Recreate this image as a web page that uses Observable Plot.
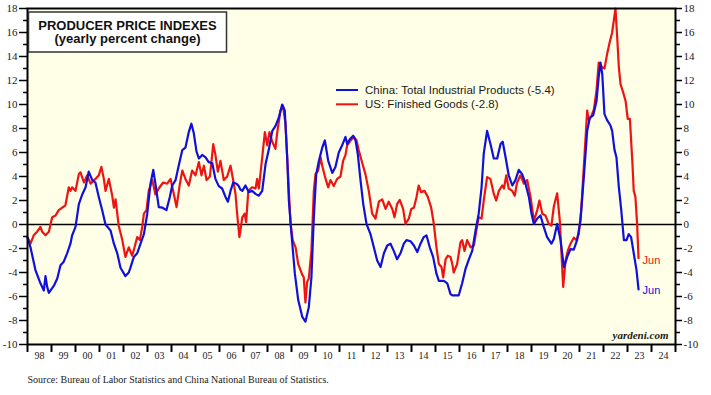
<!DOCTYPE html>
<html><head><meta charset="utf-8">
<script src="https://cdn.jsdelivr.net/npm/d3@7"></script>
<script src="https://cdn.jsdelivr.net/npm/@observablehq/plot@0.6"></script>
<style>
html,body{margin:0;padding:0;background:#fff;}
#chart svg{display:block;}
</style></head><body><div id="chart"></div>
<script>
// China: Total Industrial Products, yearly % change [decimal year, value]
const china = [[1998.00,-1.1],[1998.125,-1.9],[1998.33,-3.8],[1998.54,-4.9],[1998.68,-5.5],[1998.75,-4.3],[1998.82,-5.2],[1998.89,-5.7],[1999.10,-5.1],[1999.24,-4.5],[1999.375,-3.4],[1999.51,-3.1],[1999.65,-2.4],[1999.79,-1.6],[1999.86,-0.9],[2000.00,-0.2],[2000.14,1.7],[2000.28,2.5],[2000.42,3.1],[2000.55,4.4],[2000.70,3.7],[2000.83,3.5],[2000.97,2.3],[2001.11,1.2],[2001.25,0.0],[2001.46,-0.5],[2001.60,-1.6],[2001.74,-2.4],[2001.875,-3.6],[2002.08,-4.3],[2002.22,-4.0],[2002.29,-3.6],[2002.43,-2.7],[2002.57,-2.4],[2002.71,-1.6],[2002.85,-0.8],[2002.99,0.9],[2003.125,3.4],[2003.24,4.55],[2003.33,3.4],[2003.47,1.45],[2003.625,1.4],[2003.79,1.2],[2003.93,2.3],[2004.03,3.25],[2004.17,3.7],[2004.30,4.9],[2004.45,6.2],[2004.58,6.4],[2004.72,7.7],[2004.83,8.4],[2004.93,7.6],[2005.04,6.1],[2005.14,5.5],[2005.28,5.8],[2005.42,5.6],[2005.55,5.2],[2005.70,5.1],[2005.83,3.8],[2005.97,3.2],[2006.11,3.0],[2006.25,2.3],[2006.35,1.9],[2006.46,2.8],[2006.57,3.5],[2006.71,3.4],[2006.80,3.2],[2006.875,2.9],[2006.95,2.8],[2007.08,3.25],[2007.22,2.7],[2007.36,2.8],[2007.50,2.55],[2007.64,2.4],[2007.78,2.8],[2007.92,5.05],[2008.05,6.2],[2008.20,7.8],[2008.33,8.2],[2008.47,8.9],[2008.61,10.0],[2008.72,9.5],[2008.82,5.6],[2008.89,2.0],[2009.00,-0.8],[2009.14,-4.1],[2009.28,-6.3],[2009.45,-7.7],[2009.58,-8.1],[2009.72,-6.9],[2009.83,-4.4],[2009.93,0.6],[2010.03,4.2],[2010.14,5.3],[2010.28,6.4],[2010.39,7.0],[2010.53,5.3],[2010.70,4.3],[2010.83,4.8],[2010.97,6.0],[2011.11,6.6],[2011.25,7.3],[2011.32,6.7],[2011.43,7.1],[2011.57,7.4],[2011.67,7.0],[2011.76,5.9],[2011.875,3.7],[2011.99,1.7],[2012.125,0.05],[2012.29,-0.8],[2012.43,-1.9],[2012.57,-3.0],[2012.71,-3.55],[2012.85,-2.4],[2012.99,-1.75],[2013.125,-1.6],[2013.26,-2.2],[2013.40,-2.9],[2013.54,-2.4],[2013.68,-1.6],[2013.79,-1.3],[2013.96,-1.4],[2014.10,-1.75],[2014.24,-2.3],[2014.375,-1.6],[2014.51,-1.05],[2014.625,-0.9],[2014.76,-1.9],[2014.90,-2.7],[2015.04,-4.1],[2015.14,-4.7],[2015.35,-4.7],[2015.49,-4.9],[2015.625,-5.8],[2015.70,-5.9],[2015.97,-5.9],[2016.11,-4.9],[2016.25,-3.7],[2016.39,-2.9],[2016.53,-2.2],[2016.67,-0.5],[2016.80,0.9],[2016.92,3.1],[2017.01,5.9],[2017.15,7.8],[2017.29,6.7],[2017.43,5.5],[2017.57,5.5],[2017.71,6.7],[2017.80,6.9],[2017.92,5.6],[2018.05,4.1],[2018.20,3.25],[2018.33,3.7],[2018.47,4.55],[2018.61,4.2],[2018.75,3.4],[2018.89,2.3],[2019.00,0.9],[2019.10,0.05],[2019.24,0.5],[2019.375,0.75],[2019.51,-0.2],[2019.65,-1.05],[2019.83,-1.6],[2019.93,-1.2],[2020.07,0.05],[2020.21,-1.3],[2020.35,-3.55],[2020.49,-2.7],[2020.625,-2.05],[2020.76,-2.1],[2020.90,-1.3],[2021.04,0.3],[2021.18,3.95],[2021.32,7.8],[2021.43,8.9],[2021.57,9.1],[2021.71,10.3],[2021.80,12.3],[2021.875,13.5],[2021.95,12.5],[2022.04,9.2],[2022.15,8.7],[2022.29,8.25],[2022.36,7.8],[2022.46,6.2],[2022.54,5.6],[2022.64,3.1],[2022.74,1.2],[2022.85,-1.3],[2022.96,-1.3],[2023.05,-0.8],[2023.15,-1.05],[2023.26,-2.4],[2023.375,-3.8],[2023.46,-5.4]];

// US: Finished Goods, yearly % change [decimal year, value]
const us = [[1998.00,-1.05],[1998.125,-1.6],[1998.26,-0.9],[1998.40,-0.6],[1998.54,-0.2],[1998.61,-0.6],[1998.75,-0.9],[1998.89,-0.6],[1999.03,0.6],[1999.17,0.75],[1999.30,1.2],[1999.45,1.4],[1999.58,1.6],[1999.72,3.1],[1999.79,2.8],[1999.86,3.1],[2000.00,2.8],[2000.14,4.2],[2000.21,4.35],[2000.35,3.5],[2000.49,4.1],[2000.625,3.4],[2000.83,3.8],[2000.97,4.1],[2001.08,4.8],[2001.18,3.8],[2001.25,2.8],[2001.39,3.8],[2001.53,2.4],[2001.60,1.4],[2001.67,2.1],[2001.80,-0.1],[2001.95,-1.3],[2002.08,-2.7],[2002.22,-1.9],[2002.36,-2.6],[2002.46,-1.9],[2002.57,-1.05],[2002.68,-1.3],[2002.78,-0.2],[2002.85,0.9],[2002.96,1.2],[2003.05,2.8],[2003.20,3.7],[2003.33,2.5],[2003.47,3.0],[2003.65,3.5],[2003.82,3.4],[2003.96,3.8],[2004.07,2.8],[2004.21,1.45],[2004.35,3.4],[2004.45,4.5],[2004.58,3.8],[2004.72,3.25],[2004.86,4.5],[2005.00,4.1],[2005.14,5.2],[2005.25,4.1],[2005.35,4.9],[2005.46,3.7],[2005.60,4.0],[2005.74,6.7],[2005.83,5.8],[2005.93,4.4],[2006.04,5.3],[2006.18,3.7],[2006.32,4.0],[2006.46,4.9],[2006.57,3.7],[2006.67,2.5],[2006.73,1.0],[2006.83,-1.05],[2006.95,0.6],[2007.05,0.9],[2007.11,0.2],[2007.20,2.8],[2007.36,3.1],[2007.50,3.0],[2007.57,3.8],[2007.64,3.0],[2007.78,5.6],[2007.89,7.7],[2007.99,6.6],[2008.08,7.7],[2008.20,6.9],[2008.33,6.3],[2008.40,7.6],[2008.54,9.5],[2008.64,9.9],[2008.75,8.4],[2008.82,5.6],[2008.96,0.05],[2009.05,-1.3],[2009.17,-1.9],[2009.28,-3.3],[2009.375,-3.8],[2009.45,-4.2],[2009.51,-4.4],[2009.58,-6.5],[2009.65,-4.8],[2009.72,-4.5],[2009.83,-2.2],[2009.93,2.8],[2010.00,4.2],[2010.11,4.5],[2010.21,5.6],[2010.28,4.9],[2010.42,3.8],[2010.53,3.1],[2010.625,3.7],[2010.76,3.2],[2010.90,3.8],[2011.04,4.0],[2011.15,5.3],[2011.25,5.8],[2011.32,6.6],[2011.46,7.0],[2011.60,7.3],[2011.71,7.0],[2011.80,6.2],[2011.95,5.1],[2012.08,4.2],[2012.22,2.8],[2012.36,0.9],[2012.50,0.5],[2012.64,1.9],[2012.78,2.1],[2012.92,1.3],[2013.05,1.9],[2013.20,1.3],[2013.29,0.6],[2013.40,1.7],[2013.51,2.05],[2013.65,1.3],[2013.75,0.05],[2013.89,0.5],[2013.99,1.3],[2014.10,1.4],[2014.21,2.3],[2014.30,3.25],[2014.40,2.7],[2014.54,2.8],[2014.68,2.3],[2014.82,1.4],[2014.93,0.05],[2015.04,-1.9],[2015.14,-3.3],[2015.25,-3.55],[2015.32,-4.4],[2015.42,-2.9],[2015.51,-2.6],[2015.625,-2.7],[2015.70,-3.3],[2015.76,-4.0],[2015.90,-3.3],[2016.04,-1.5],[2016.11,-1.3],[2016.21,-2.2],[2016.32,-1.3],[2016.46,-1.9],[2016.60,-1.75],[2016.70,-0.5],[2016.80,0.6],[2016.92,0.5],[2017.01,2.0],[2017.15,3.95],[2017.29,3.8],[2017.43,2.55],[2017.53,2.0],[2017.64,2.8],[2017.78,3.25],[2017.85,3.0],[2017.95,4.1],[2018.05,3.0],[2018.20,2.8],[2018.30,2.4],[2018.40,3.5],[2018.54,4.1],[2018.68,3.4],[2018.82,3.7],[2018.96,2.3],[2019.10,0.3],[2019.24,1.2],[2019.33,2.0],[2019.45,0.9],[2019.58,0.75],[2019.72,0.05],[2019.83,-0.1],[2019.93,1.5],[2020.07,2.6],[2020.18,0.3],[2020.32,-5.2],[2020.42,-3.0],[2020.51,-2.2],[2020.625,-1.6],[2020.76,-1.1],[2020.875,-1.3],[2020.97,-0.8],[2021.07,1.2],[2021.18,4.8],[2021.32,9.5],[2021.39,8.7],[2021.49,9.0],[2021.60,9.6],[2021.71,11.2],[2021.80,13.5],[2021.95,13.1],[2022.04,13.0],[2022.15,14.2],[2022.26,15.2],[2022.36,16.0],[2022.50,18.0],[2022.57,15.6],[2022.64,13.1],[2022.71,11.7],[2022.82,11.0],[2022.92,10.3],[2023.01,8.8],[2023.10,8.8],[2023.20,5.3],[2023.26,2.8],[2023.33,2.3],[2023.40,0.05],[2023.46,-2.8]];

const yearLabels = ["98","99","00","01","02","03","04","05","06","07","08","09","10","11","12","13","14","15","16","17","18","19","20","21","22","23","24"];
const yMajorTicks = [-10,-8,-6,-4,-2,0,2,4,6,8,10,12,14,16,18];
const yMinorTicks = [-9,-7,-5,-3,-1,1,3,5,7,9,11,13,15,17];
const seriesNames = ["China: Total Industrial Products (-5.4)", "US: Finished Goods (-2.8)"];
const titleLines = ["PRODUCER PRICE INDEXES", "(yearly percent change)"];
const sourceText = "Source: Bureau of Labor Statistics and China National Bureau of Statistics.";
const endLabel = "Jun";
const brand = "yardeni.com";

const BLUE = "#1010dc", RED = "#ee1414", BG = "#fffee6", INK = "#1a1a1a";
const serif = "'Liberation Serif','Times New Roman',serif";
const sans = "'Liberation Sans',Arial,sans-serif";

const rows = (arr) => arr.map(([t, v]) => ({t, v}));
const chinaRows = rows(china), usRows = rows(us);
const startYear = 1998, endYear = 2025;
const yearTicks = d3.range(startYear, endYear + 1);
const labelTicks = d3.range(startYear, endYear).map(y => y + 0.5);

const chart = Plot.plot({
  width: 711, height: 395,
  marginLeft: 27, marginRight: 36, marginTop: 8, marginBottom: 51,
  style: {background: "white", color: INK, overflow: "visible"},
  x: {domain: [startYear, endYear], label: null},
  y: {domain: [-10, 18], label: null},
  marks: [
    Plot.frame({fill: BG, stroke: null}),
    Plot.ruleY([0], {stroke: "black", strokeWidth: 1.3}),
    Plot.line(usRows, {x: "t", y: "v", stroke: RED, strokeWidth: 2.2}),
    Plot.line(chinaRows, {x: "t", y: "v", stroke: BLUE, strokeWidth: 2.2}),
    Plot.text(usRows, Plot.selectLast({x: "t", y: "v", text: () => endLabel, dx: 4, dy: 2, textAnchor: "start", fill: RED, fontSize: 11, fontFamily: sans})),
    Plot.text(chinaRows, Plot.selectLast({x: "t", y: "v", text: () => endLabel, dx: 4, dy: 1, textAnchor: "start", fill: BLUE, fontSize: 11, fontFamily: sans})),
    Plot.text([brand], {frameAnchor: "bottom-right", dx: -7, dy: -9, lineAnchor: "middle", textAnchor: "end", fontFamily: serif, fontWeight: "bold", fontStyle: "italic", fontSize: 11, fill: INK}),
    Plot.text([sourceText], {frameAnchor: "bottom-left", dy: 35, lineAnchor: "middle", textAnchor: "start", fontFamily: serif, fontSize: 10, fill: INK}),
    Plot.frame({stroke: "black", strokeWidth: 2}),
    Plot.axisX({ticks: yearTicks, tickSize: 8, tickFormat: () => "", strokeWidth: 2, stroke: "black"}),
    Plot.axisX({ticks: labelTicks, tickSize: 0, tickPadding: 7, tickFormat: d => yearLabels[Math.floor(d) - startYear], fontSize: 10, fontFamily: serif}),
    Plot.axisY({anchor: "left", ticks: yMajorTicks, tickSize: 8, tickPadding: 2, tickFormat: d => String(d), fontSize: 11, fontFamily: serif, strokeWidth: 1.5, stroke: "black"}),
    Plot.axisY({anchor: "left", ticks: yMinorTicks, tickSize: 4, tickFormat: () => "", strokeWidth: 1.5, stroke: "black"}),
    Plot.axisY({anchor: "right", ticks: yMajorTicks, tickSize: 6, tickPadding: 2, tickFormat: d => String(d), fontSize: 11, fontFamily: serif, strokeWidth: 1.5, stroke: "black"}),
    Plot.axisY({anchor: "right", ticks: yMinorTicks, tickSize: 4, tickFormat: () => "", strokeWidth: 1.5, stroke: "black"})
  ]
});
document.getElementById("chart").appendChild(chart);

// Title box and legend (layout decorations)
const svg = d3.select(chart);
const tg = svg.append("g");
tg.append("rect").attr("x", 28.5).attr("y", 12).attr("width", 198).attr("height", 40)
  .attr("fill", "white").attr("stroke", "#333").attr("stroke-width", 1.5);
titleLines.forEach((t, i) => {
  tg.append("text").attr("x", 127.5).attr("y", 25 + i * 13.5).attr("dy", "0.35em")
    .attr("text-anchor", "middle").attr("font-family", sans).attr("font-weight", "bold")
    .attr("font-size", 13).attr("fill", "#111").text(t);
});
const lg = svg.append("g").attr("text-anchor", "start");
[BLUE, RED].forEach((c, i) => {
  const y = 90 + i * 14.3;
  lg.append("line").attr("x1", 336).attr("x2", 358).attr("y1", y).attr("y2", y)
    .attr("stroke", c).attr("stroke-width", 2);
  lg.append("text").attr("x", 365).attr("y", y).attr("dy", "0.35em").attr("text-anchor", "start")
    .attr("font-family", sans).attr("font-size", 11.5).attr("fill", INK).text(seriesNames[i]);
});
</script></body></html>
